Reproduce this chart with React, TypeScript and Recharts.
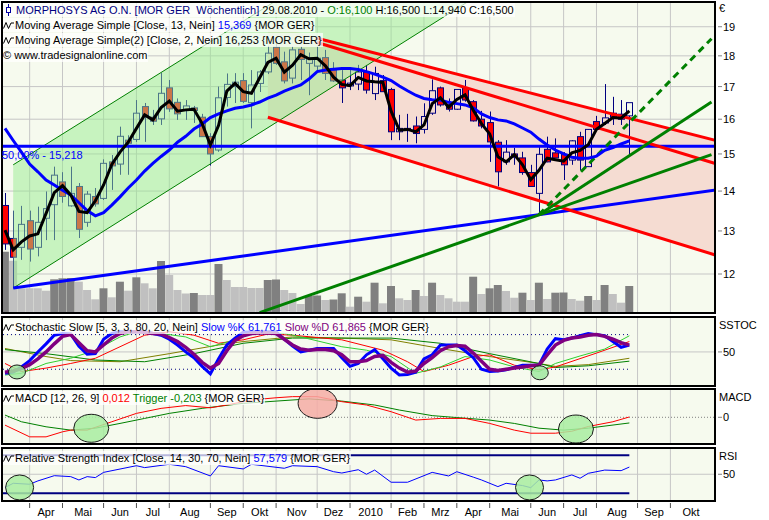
import React from "react"
import {
  ComposedChart,
  Bar,
  Line,
  Area,
  XAxis,
  YAxis,
  CartesianGrid,
  ReferenceLine,
  ReferenceDot,
  Cell,
} from "recharts"

const FONT = "'Liberation Sans', Arial, sans-serif"
const BG = "#f6faee"
const GRID = "#c6c6c6"
const NAVY = "#000080"

// weekly candles 15.03.2009 ... 29.08.2010 (slot 1 ... 77)
const openPx = [
  13.63, 12.82, 12.61, 13.25, 12.61, 13.31, 13.65, 14.24, 13.62, 14.12,
  13.21, 13.86, 13.81, 14.78, 14.72, 15.39, 15.41, 16.38, 16.06, 16.01,
  16.96, 16.51, 16.26, 16.34, 16.06, 15.49, 15.11, 16.66, 17.0, 17.19,
  16.5, 17.1, 17.47, 18.29, 17.8, 17.27, 18.22, 17.75, 17.66, 17.94,
  17.53, 17.21, 17.02, 17.08, 17.47, 16.78, 17.19, 16.91, 15.63, 15.73,
  15.8, 15.7, 16.18, 16.96, 16.45, 16.3, 16.96, 16.53, 16.0, 15.9,
  15.33, 14.78, 15.0, 14.89, 14.49, 13.94, 15.13, 15.03, 14.99, 14.83,
  15.49, 14.65, 15.93, 15.89, 16.18, 16.15, 16.1,
]
const highPx = [
  13.95, 13.5, 13.62, 13.5, 13.6, 13.99, 14.65, 14.5, 14.65, 14.21,
  14.0, 14.08, 14.85, 14.97, 15.78, 15.53, 16.58, 16.49, 16.28, 17.44,
  17.21, 16.63, 16.58, 16.4, 16.16, 15.59, 17.0, 17.42, 17.43, 17.43,
  17.53, 17.53, 18.34, 18.54, 18.14, 18.31, 18.31, 18.11, 18.31, 18.2,
  17.79, 17.53, 17.63, 17.7, 17.7, 17.64, 17.37, 16.96, 16.13, 16.16,
  16.08, 16.48, 17.23, 17.0, 16.63, 16.91, 17.21, 16.58, 16.25, 16.23,
  15.39, 15.39, 15.17, 15.06, 14.7, 15.19, 15.49, 15.44, 15.05, 15.39,
  15.63, 15.71, 16.1, 17.08, 16.68, 16.58, 16.5,
]
const lowPx = [
  12.55, 11.69, 12.32, 12.28, 12.4, 12.78, 12.78, 13.7, 13.6, 12.83,
  13.1, 13.6, 13.77, 14.03, 14.43, 14.43, 15.34, 15.34, 15.83, 15.83,
  16.22, 15.98, 15.98, 15.89, 15.48, 14.68, 15.06, 16.38, 16.49, 16.49,
  15.73, 16.83, 17.4, 17.7, 17.1, 17.1, 17.21, 16.73, 17.47, 17.21,
  17.15, 16.49, 16.89, 16.89, 16.78, 16.58, 16.83, 15.39, 15.39, 15.34,
  15.3, 15.58, 16.13, 16.38, 16.23, 16.28, 16.53, 15.93, 15.73, 14.78,
  14.12, 14.7, 14.7, 14.43, 14.11, 13.4, 14.77, 14.89, 14.29, 14.7,
  14.56, 14.64, 15.65, 15.83, 15.83, 15.83, 14.94,
]
const closePx = [
  12.69, 12.38, 13.16, 12.57, 13.21, 13.55, 14.42, 13.86, 13.94, 13.04,
  13.92, 13.67, 14.74, 14.67, 15.5, 15.3, 16.18, 16.1, 15.94, 16.79,
  16.31, 16.16, 16.4, 16.26, 15.49, 15.0, 16.65, 17.07, 17.14, 16.54,
  17.05, 17.47, 18.09, 17.75, 17.18, 18.2, 17.88, 17.92, 17.92, 17.42,
  17.18, 16.96, 17.11, 17.47, 16.89, 17.42, 16.84, 15.63, 15.73, 15.68,
  15.58, 16.08, 16.87, 16.43, 16.3, 16.91, 16.58, 15.95, 15.8, 15.34,
  14.51, 15.05, 14.91, 14.49, 14.12, 14.99, 14.78, 14.89, 14.7, 15.37,
  14.83, 15.7, 15.7, 16.04, 16.06, 16.0, 16.5,
]
// thousand shares
const volume = [
  603, 513, 237, 237, 237, 213, 327, 337, 340, 303,
  220, 127, 237, 147, 303, 213, 347, 287, 237, 510,
  370, 220, 185, 190, 170, 170, 480, 320, 250, 250,
  240, 240, 320, 325, 220, 190, 80, 160, 165, 120,
  125, 187, 53, 153, 103, 293, 87, 260, 137, 120,
  220, 160, 293, 170, 137, 103, 103, 353, 180, 237,
  270, 210, 143, 193, 120, 293, 130, 193, 195, 130,
  113, 160, 120, 270, 180, 93, 260,
]
const sma13 = [
  15.73, 15.38, 15.05, 14.72, 14.51, 14.29, 14.16, 14.02, 13.9, 13.7,
  13.5, 13.37, 13.45, 13.64, 13.85, 14.08, 14.29, 14.53, 14.74, 14.93,
  15.11, 15.33, 15.5, 15.71, 15.86, 16.05, 16.16, 16.25, 16.33, 16.37,
  16.43, 16.52, 16.64, 16.73, 16.86, 16.96, 17.05, 17.24, 17.48, 17.53,
  17.56, 17.58, 17.58, 17.55, 17.48, 17.4, 17.3, 17.19, 17.02, 16.87,
  16.73, 16.63, 16.59, 16.58, 16.51, 16.47, 16.43, 16.34, 16.16, 16.05,
  15.98, 15.95, 15.86, 15.74, 15.62, 15.42, 15.25, 15.11, 15.0, 14.91,
  14.88, 14.88, 14.94, 15.1, 15.18, 15.28, 15.369,
]
const sma2 = [
  13.02, 12.55, 12.74, 12.88, 12.93, 13.43, 13.96, 14.14, 13.9, 13.48,
  13.45, 13.75, 14.16, 14.71, 15.05, 15.33, 15.73, 16.13, 15.98, 16.35,
  16.55, 16.24, 16.28, 16.3, 15.87, 15.25, 15.82, 16.86, 17.1, 16.84,
  16.79, 17.28, 17.78, 17.92, 17.46, 17.69, 18.04, 17.9, 17.92, 17.67,
  17.3, 17.07, 17.03, 17.29, 17.18, 17.15, 17.13, 16.24, 15.68, 15.7,
  15.63, 15.83, 16.47, 16.65, 16.36, 16.6, 16.74, 16.27, 15.87, 15.57,
  14.92, 14.78, 14.98, 14.7, 14.3, 14.55, 14.88, 14.84, 14.8, 15.03,
  15.1, 15.26, 15.7, 15.87, 16.05, 16.03, 16.253,
]
const slowK = [
  13, 15, 24, 35, 50, 64, 79, 82, 81, 60,
  46, 47, 72, 82, 85, 85, 85, 85, 82, 79,
  72, 62, 50, 40, 25, 12, 38, 62, 74, 84,
  85, 85, 85, 85, 72, 60, 50, 53, 56, 56,
  56, 40, 25, 30, 45, 54, 38, 22, 10, 11,
  15, 38, 45, 62, 62, 62, 52, 40, 20, 16,
  17, 19, 23, 27, 27, 27, 55, 73, 71, 74,
  78, 82, 80, 78, 68, 58, 61.761,
]
const slowD = [
  15, 17, 21, 28, 38, 50, 64, 77, 80, 66,
  52, 50, 62, 74, 82, 85, 85, 84, 82, 81,
  75, 68, 58, 46, 32, 22, 30, 52, 70, 78,
  82, 83, 83, 82, 72, 62, 55, 53, 54, 54,
  52, 45, 33, 33, 35, 42, 44, 32, 22, 15,
  17, 30, 40, 52, 59, 61, 60, 48, 34, 20,
  18, 20, 22, 24, 26, 27, 45, 62, 70, 74,
  76, 79, 80, 77, 72, 66, 61.865,
]

// thin stochastic averages, [slot, value]
const stochRed = [
  [1, 30], [3, 16], [6, 22], [9, 30], [12, 39], [15, 59], [18, 79], [21, 85], [24, 79],
  [27, 65], [30, 71], [33, 81], [36, 79], [42, 71], [47, 53], [50, 33], [52, 16], [55, 27],
  [58, 42], [60, 45], [63, 27], [66, 19], [68, 24], [73, 48], [77, 68],
]
const stochLime = [
  [1, 10], [3, 13], [6, 30], [9, 39], [12, 53], [15, 76], [17, 85], [20, 82], [23, 76],
  [26, 59], [29, 71], [31, 82], [35, 82], [37, 76], [42, 59], [45, 53], [48, 42], [51, 13],
  [54, 24], [57, 42], [60, 36], [63, 24], [66, 16], [68, 30], [71, 43], [74, 55], [77, 78],
]
const stochOlive = [
  [1, 56], [6, 42], [9, 35], [15, 33], [21, 47], [27, 62], [30, 68], [36, 76], [42, 74],
  [48, 71], [54, 56], [60, 42], [66, 30], [68, 25], [72, 28], [77, 39],
]
const stochGreen = [
  [1, 54], [6, 47], [12, 36], [18, 33], [24, 47], [30, 65], [36, 74], [42, 74], [48, 74],
  [54, 65], [60, 47], [66, 30], [68, 23], [72, 26], [77, 34],
]
const macdLine = [
  [1, -0.28], [4, -0.7], [6, -0.7], [8, -0.52], [9, -0.46], [11, -0.46], [14, -0.16],
  [17, 0.14], [20, 0.32], [23, 0.42], [26, 0.34], [28, 0.44], [31, 0.62], [34, 0.7],
  [36, 0.74], [39, 0.74], [42, 0.56], [45, 0.44], [48, 0.2], [51, -0.1], [54, -0.04],
  [57, -0.04], [60, -0.22], [63, -0.46], [65, -0.57], [68, -0.57], [70, -0.5], [72, -0.33],
  [75, -0.16], [77, 0.012],
]
const triggerLine = [
  [1, 0.08], [3, -0.16], [6, -0.34], [9, -0.46], [12, -0.39], [15, -0.22], [18, -0.04],
  [21, 0.14], [25, 0.32], [30, 0.5], [34, 0.58], [38, 0.66], [42, 0.58], [46, 0.44],
  [49, 0.26], [53, 0.06], [56, -0.01], [60, -0.1], [63, -0.22], [66, -0.39], [69, -0.46],
  [72, -0.39], [77, -0.203],
]
const rsiLine = [
  [1, 36], [2, 40.5], [4, 39.5], [5, 43], [7, 48.5], [9, 47.5], [10, 44], [11, 47.5],
  [12, 46.5], [13, 52], [15, 55.5], [17, 59], [18, 57], [21, 60.5], [23, 58], [26, 48.2],
  [27, 59], [30, 55.6], [31, 60.5], [35, 56.3], [36, 59], [39, 58], [41, 52.7], [42, 51.3],
  [44, 54.8], [45, 50], [46, 54.4], [48, 41.6], [50, 41.6], [53, 52], [55, 48.2], [56, 52.7],
  [58, 47], [59, 44], [61, 37], [62, 40.5], [64, 38.1], [65, 35.9], [66, 44], [67, 43],
  [68, 44], [70, 49.3], [71, 45.8], [72, 51], [74, 54.4], [76, 53.8], [77, 57.579],
]

// drawing tools on the price chart
const upChannel = [
  { t: 2, band: [11.69, 14.7] },
  { t: 58, band: [20.03, 25.07] },
]
const downChannel = [
  { t: 33, band: [16.06, 19.07] },
  { t: 88, band: [12.4, 15.35] },
]
const redTrends = [
  [{ x: 39, y: 18.6 }, { x: 88, y: 15.35 }],
  [{ x: 39, y: 18.45 }, { x: 88, y: 14.7 }],
  [{ x: 33, y: 16.06 }, { x: 88, y: 12.4 }],
]
const supportTrend = [{ x: 2, y: 11.69 }, { x: 88, y: 14.04 }]
const fanTrends = [
  [{ x: 32, y: 11.17 }, { x: 87, y: 14.98 }],
  [{ x: 66, y: 13.4 }, { x: 87, y: 16.52 }],
]
const fanDashed = [{ x: 66, y: 13.4 }, { x: 87, y: 18.58 }]
const fiboLevel = 15.218

const stochMarks = [[2.46, 15.3], [66.1, 13.9]]
const macdGreenMarks = [[11.5, -0.394], [70.5, -0.42]]
const macdRedMarks = [[39.05, 0.5]]
const rsiMarks = [[2.78, 36.1], [64.85, 36.1]]

const monthTicks = [4, 8, 13, 17, 21, 26, 30, 34, 39, 43, 48, 52, 56, 60, 65, 69, 73, 78, 82]
const monthLabels = ["Apr", "Mai", "Jun", "Jul", "Aug", "Sep", "Okt", "Nov", "Dez", "2010", "Feb", "Mrz", "Apr", "Mai", "Jun", "Jul", "Aug", "Sep", "Okt"]
const monthEndSlot = 87
const priceTicks = [12, 13, 14, 15, 16, 17, 18, 19]

const X_DOMAIN: [number, number] = [0.7565, 87.305]
const PRICE_DOMAIN: [number, number] = [11.182, 19.857]

const weeks = closePx.map((c, i) => ({
  t: i + 1,
  open: openPx[i],
  high: highPx[i],
  low: lowPx[i],
  close: c,
  range: [lowPx[i], highPx[i]],
  vol: volume[i],
  sma13: sma13[i],
  sma2: sma2[i],
  k: slowK[i],
  d: slowD[i],
}))
const pts = (arr: number[][]) => arr.map(([t, v]) => ({ t, v }))
const labelSlots = monthTicks.map((t, i) => (t + (monthTicks[i + 1] ?? monthEndSlot)) / 2)

function Candle(props: any) {
  const { x, y, width, height, payload } = props
  if (x == null || !payload) return null
  const top = Math.min(y, y + height)
  const h = Math.abs(height)
  const lh = Math.log(payload.high)
  const span = lh - Math.log(payload.low) || 1
  const py = (v: number) => top + ((lh - Math.log(v)) / span) * h
  const cx = Math.round(x + width / 2) + 0.5
  const yo = py(payload.open)
  const yc = py(payload.close)
  const bTop = Math.min(yo, yc)
  const bBot = Math.max(yo, yc)
  const up = payload.close >= payload.open
  return (
    <g>
      <line x1={cx} x2={cx} y1={top} y2={bTop} stroke={NAVY} />
      <line x1={cx} x2={cx} y1={bBot} y2={top + h} stroke={NAVY} />
      <rect x={cx - 3} y={bTop} width={6} height={Math.max(bBot - bTop, 1)} fill={up ? "none" : "#ff0000"} stroke={NAVY} />
    </g>
  )
}

function RightTick(props: any) {
  const { x, y, payload } = props
  return (
    <g>
      <line x1={x + 4} x2={x + 8} y1={y} y2={y} stroke="#808080" />
      <text x={x + 9} y={y} dy={4} fontSize={11} fontFamily={FONT} fill="#000">
        {payload.value}
      </text>
    </g>
  )
}

function MonthMark(props: any) {
  const { x, y } = props
  return <line x1={x} x2={x} y1={y + 3} y2={y + 8} stroke="#505050" />
}

const blob = (rx: number, ry: number, fill: string) => (p: any) => (
  <ellipse cx={p.cx} cy={p.cy} rx={rx} ry={ry} fill={fill} fillOpacity={0.85} stroke="#1a1a1a" strokeWidth={1} />
)

function Wave() {
  return (
    <svg width="12" height="9" style={{ verticalAlign: "-1px" }}>
      <path d="M0.5 7.5 L3 1.5 L5.5 7.5 L8 2 L11 2" fill="none" stroke="#000" strokeWidth={1} />
    </svg>
  )
}

function CandleIcon() {
  return (
    <svg width="13" height="12" style={{ verticalAlign: "-2px" }}>
      <line x1="5.5" x2="5.5" y1="0" y2="12" stroke="#0000a0" />
      <rect x="3.5" y="3.5" width="4" height="5" fill="#fff" stroke="#0000a0" />
    </svg>
  )
}

function Caption({ left, top, icon, parts }: { left: number; top: number; icon?: React.ReactNode; parts: string[][] }) {
  return (
    <div
      style={{
        position: "absolute",
        left,
        top,
        height: 14,
        lineHeight: "14px",
        fontSize: 11,
        whiteSpace: "pre",
        background: "rgba(255,255,255,0.72)",
        paddingRight: 1,
      }}
    >
      {icon}
      {parts.map(([text, color], i) => (
        <span key={i} style={{ color }}>
          {text}
        </span>
      ))}
    </div>
  )
}

const frame = (top: number, height: number) => (
  <div
    style={{
      position: "absolute",
      left: 1,
      top,
      width: 715,
      height,
      border: "2px solid #000",
      boxSizing: "border-box",
      pointerEvents: "none",
    }}
  />
)

const sideLabel = (top: number, text: string) => (
  <div style={{ position: "absolute", left: 719, top, fontSize: 11, lineHeight: "14px" }}>{text}</div>
)

export default function App() {
  return (
    <div style={{ position: "absolute", left: 0, top: 0, width: 769, height: 520, background: "#fff", fontFamily: FONT, overflow: "hidden" }}>
      {/* price panel */}
      <div style={{ position: "absolute", left: 0, top: 0 }}>
        <ComposedChart width={769} height={314} data={weeks} margin={{ top: 3, right: 0, bottom: 2, left: 3 }} barGap={-8}>
          <CartesianGrid fill={BG} stroke={GRID} verticalValues={monthTicks} horizontalValues={priceTicks} />
          <XAxis type="number" dataKey="t" domain={X_DOMAIN} ticks={monthTicks} allowDataOverflow hide />
          <YAxis
            orientation="right"
            scale="log"
            domain={PRICE_DOMAIN}
            ticks={priceTicks}
            allowDataOverflow
            width={55}
            axisLine={false}
            tickLine={false}
            tickSize={0}
            tickMargin={0}
            interval={0}
            tick={RightTick}
          />
          <YAxis yAxisId="vol" domain={[0, 3090]} allowDataOverflow hide />
          <Area data={downChannel} dataKey="band" type="linear" fill="#f5dcd2" fillOpacity={1} stroke="none" isAnimationActive={false} />
          <Bar dataKey="vol" yAxisId="vol" barSize={8} isAnimationActive={false}>
            {weeks.map((w, i) => (
              <Cell key={i} fill={i === 0 || volume[i] > volume[i - 1] ? "#808080" : "#c0c0c0"} />
            ))}
          </Bar>
          <Bar dataKey="range" barSize={8} shape={Candle} isAnimationActive={false} />
          <Area
            data={upChannel}
            dataKey="band"
            type="linear"
            fill="#98ec90"
            fillOpacity={0.5}
            stroke="#008000"
            strokeWidth={1}
            isAnimationActive={false}
            zIndex={350}
          />
          <ReferenceLine y={fiboLevel} stroke="#0000ff" strokeWidth={3} />
          <ReferenceLine segment={supportTrend} stroke="#0000ff" strokeWidth={3} ifOverflow="hidden" />
          {redTrends.map((s, i) => (
            <ReferenceLine key={"r" + i} segment={s} stroke="#ff0000" strokeWidth={3} ifOverflow="hidden" />
          ))}
          {fanTrends.map((s, i) => (
            <ReferenceLine key={"g" + i} segment={s} stroke="#008000" strokeWidth={3} ifOverflow="hidden" />
          ))}
          <ReferenceLine segment={fanDashed} stroke="#008000" strokeWidth={3} strokeDasharray="7 5" ifOverflow="hidden" />
          <Line dataKey="sma13" stroke="#0000ff" strokeWidth={3} dot={false} isAnimationActive={false} />
          <Line dataKey="sma2" stroke="#000" strokeWidth={3} dot={false} isAnimationActive={false} />
        </ComposedChart>
      </div>

      {/* stochastic */}
      <div style={{ position: "absolute", left: 0, top: 318 }}>
        <ComposedChart width={769} height={67} data={weeks} margin={{ top: 0, right: 0, bottom: 0, left: 3 }}>
          <CartesianGrid fill={BG} stroke={GRID} verticalValues={monthTicks} horizontalValues={[50]} />
          <XAxis type="number" dataKey="t" domain={X_DOMAIN} ticks={monthTicks} allowDataOverflow hide />
          <YAxis orientation="right" domain={[-7.3, 108.8]} ticks={[50]} allowDataOverflow width={55} axisLine={false} tickLine={false} tickSize={0} tickMargin={0} tick={RightTick} />
          <ReferenceLine segment={[{ x: X_DOMAIN[0], y: 80 }, { x: 77, y: 80 }]} stroke={NAVY} strokeDasharray="1 3" />
          <ReferenceLine segment={[{ x: X_DOMAIN[0], y: 20 }, { x: 77, y: 20 }]} stroke={NAVY} strokeDasharray="1 3" />
          {stochMarks.map(([t, v], i) => (
            <ReferenceDot key={i} x={t} y={v} r={8} shape={blob(8.5, 7, "#a0e8a0")} />
          ))}
          <Line data={pts(stochOlive)} dataKey="v" stroke="#808000" strokeWidth={1} dot={false} isAnimationActive={false} />
          <Line data={pts(stochGreen)} dataKey="v" stroke="#008000" strokeWidth={1} dot={false} isAnimationActive={false} />
          <Line data={pts(stochRed)} dataKey="v" stroke="#ff0000" strokeWidth={1} dot={false} isAnimationActive={false} />
          <Line data={pts(stochLime)} dataKey="v" stroke="#30d030" strokeWidth={1} dot={false} isAnimationActive={false} />
          <Line dataKey="k" stroke="#0000ff" strokeWidth={3} dot={false} isAnimationActive={false} />
          <Line dataKey="d" stroke="#800080" strokeWidth={3.5} dot={false} isAnimationActive={false} />
        </ComposedChart>
      </div>

      {/* MACD */}
      <div style={{ position: "absolute", left: 0, top: 390 }}>
        <ComposedChart width={769} height={53} margin={{ top: 0, right: 0, bottom: 0, left: 3 }}>
          <CartesianGrid fill={BG} stroke={GRID} verticalValues={monthTicks} horizontal={false} />
          <XAxis type="number" dataKey="t" domain={X_DOMAIN} ticks={monthTicks} allowDataOverflow hide />
          <YAxis orientation="right" domain={[-0.921, 0.978]} ticks={[0]} allowDataOverflow width={55} axisLine={false} tickLine={false} tickSize={0} tickMargin={0} tick={RightTick} />
          <ReferenceLine y={0} stroke="#808080" strokeDasharray="1 2" />
          {macdGreenMarks.map(([t, v], i) => (
            <ReferenceDot key={"g" + i} x={t} y={v} r={10} shape={blob(17.5, 14, "#a8eca0")} />
          ))}
          {macdRedMarks.map(([t, v], i) => (
            <ReferenceDot key={"r" + i} x={t} y={v} r={10} shape={blob(19.5, 15, "#f4aca4")} />
          ))}
          <Line data={pts(triggerLine)} dataKey="v" stroke="#008000" strokeWidth={1} dot={false} isAnimationActive={false} />
          <Line data={pts(macdLine)} dataKey="v" stroke="#ff0000" strokeWidth={1} dot={false} isAnimationActive={false} />
        </ComposedChart>
      </div>

      {/* RSI + time axis */}
      <div style={{ position: "absolute", left: 0, top: 449 }}>
        <ComposedChart width={769} height={71} margin={{ top: 0, right: 0, bottom: 0, left: 3 }}>
          <CartesianGrid fill={BG} stroke={GRID} verticalValues={monthTicks} horizontalValues={[50]} />
          <XAxis
            type="number"
            dataKey="t"
            domain={X_DOMAIN}
            ticks={monthTicks}
            allowDataOverflow
            height={2}
            axisLine={false}
            tickLine={false}
            tickSize={0}
            tickMargin={0}
            interval={0}
            tick={MonthMark}
          />
          <XAxis
            xAxisId="lbl"
            type="number"
            dataKey="t"
            domain={X_DOMAIN}
            ticks={labelSlots}
            allowDataOverflow
            height={18}
            axisLine={false}
            tickLine={false}
            tickMargin={0}
            interval={0}
            tick={{ fontSize: 11, fill: "#000", fontFamily: FONT }}
            tickFormatter={(v: number, i: number) => monthLabels[i]}
          />
          <YAxis orientation="right" domain={[22.9, 76.6]} ticks={[50]} allowDataOverflow width={55} axisLine={false} tickLine={false} tickSize={0} tickMargin={0} tick={RightTick} />
          <ReferenceLine segment={[{ x: X_DOMAIN[0], y: 70 }, { x: 77, y: 70 }]} stroke={NAVY} strokeWidth={2} />
          <ReferenceLine segment={[{ x: X_DOMAIN[0], y: 30 }, { x: 77, y: 30 }]} stroke={NAVY} strokeWidth={2} />
          {rsiMarks.map(([t, v], i) => (
            <ReferenceDot key={i} x={t} y={v} r={10} shape={blob(14, 12.5, "#a8eca0")} />
          ))}
          <Line data={pts(rsiLine)} dataKey="v" stroke="#0000ff" strokeWidth={1} dot={false} isAnimationActive={false} />
        </ComposedChart>
      </div>

      {frame(1, 313)}
      {frame(316, 71)}
      {frame(388, 57)}
      {frame(447, 55)}

      <Caption
        left={3}
        top={3}
        icon={<CandleIcon />}
        parts={[
          ["MORPHOSYS AG O.N. [MOR GER  Wöchentlich]", NAVY],
          [" 29.08.2010 - ", "#000"],
          ["O:16,100", "#008000"],
          [" H:16,500 L:14,940 C:16,500", "#000"],
        ]}
      />
      <Caption
        left={3}
        top={18}
        icon={<Wave />}
        parts={[
          ["Moving Average Simple [Close, 13, Nein] ", "#000"],
          ["15,369", "#0000ff"],
          [" {MOR GER}", "#000"],
        ]}
      />
      <Caption left={3} top={33} icon={<Wave />} parts={[["Moving Average Simple(2) [Close, 2, Nein] 16,253 {MOR GER}", "#000"]]} />
      <Caption left={3} top={48} parts={[["© www.tradesignalonline.com", "#000"]]} />
      <div style={{ position: "absolute", left: 2, top: 149, fontSize: 11, color: "#0000ff", whiteSpace: "pre" }}>50,00% - 15,218</div>

      <Caption
        left={3}
        top={320}
        icon={<Wave />}
        parts={[
          ["Stochastic Slow [5, 3, 3, 80, 20, Nein] ", "#000"],
          ["Slow %K 61,761", "#0000ff"],
          [" Slow %D 61,865", "#800080"],
          [" {MOR GER}", "#000"],
        ]}
      />
      <Caption
        left={3}
        top={391}
        icon={<Wave />}
        parts={[
          ["MACD [12, 26, 9] ", "#000"],
          ["0,012", "#ff0000"],
          [" Trigger -0,203", "#008000"],
          [" {MOR GER}", "#000"],
        ]}
      />
      <Caption
        left={3}
        top={451}
        icon={<Wave />}
        parts={[
          ["Relative Strength Index [Close, 14, 30, 70, Nein] ", "#000"],
          ["57,579", "#0000ff"],
          [" {MOR GER}", "#000"],
        ]}
      />

      {sideLabel(1, "€")}
      {sideLabel(318, "SSTOC")}
      {sideLabel(390, "MACD")}
      {sideLabel(449, "RSI")}
    </div>
  )
}
